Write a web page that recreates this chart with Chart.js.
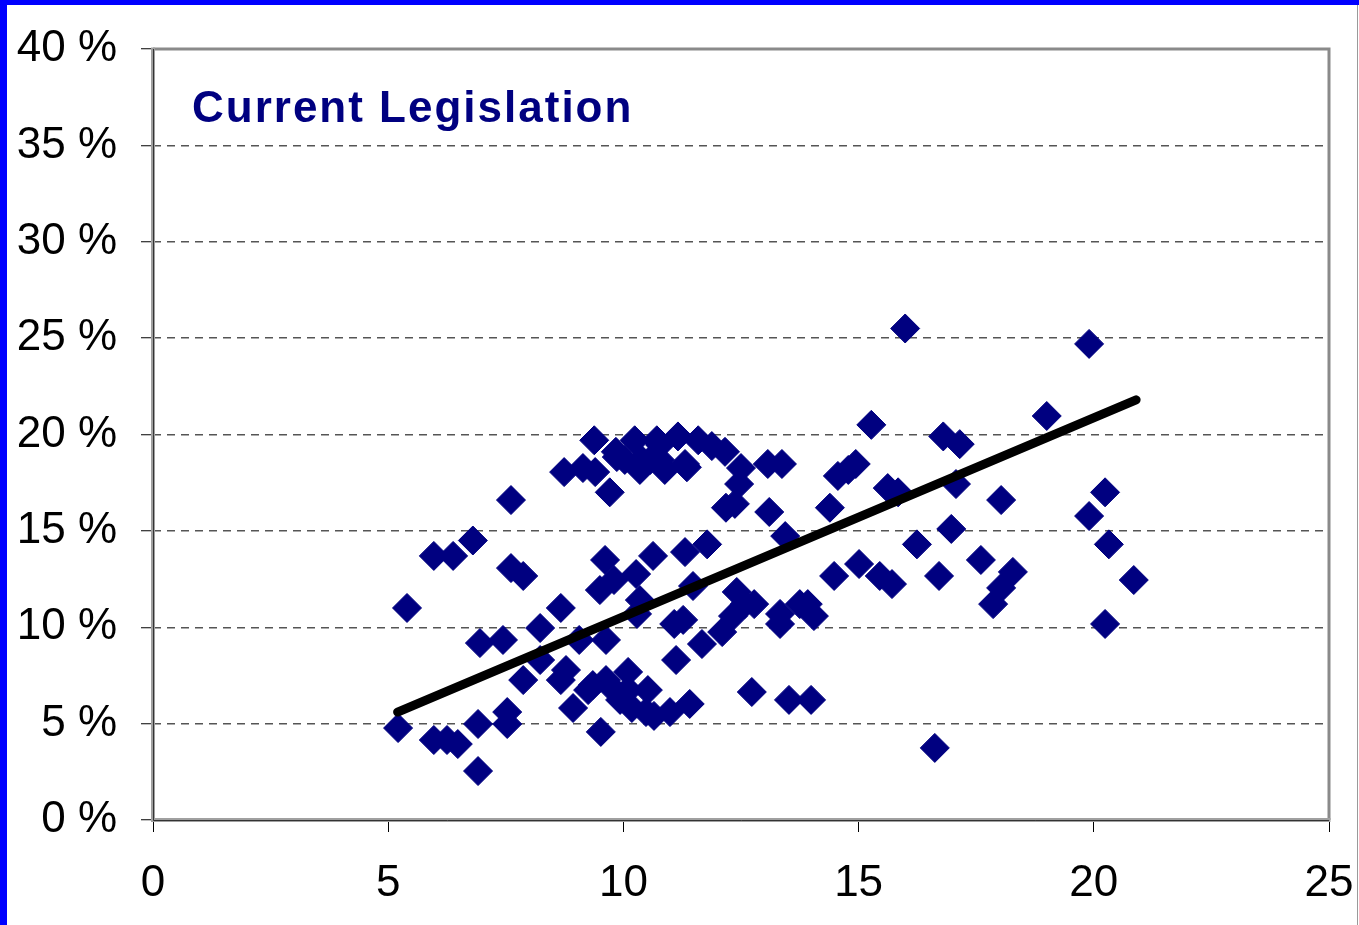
<!DOCTYPE html>
<html>
<head>
<meta charset="utf-8">
<script src="https://cdn.jsdelivr.net/npm/chart.js@4.4.0/dist/chart.umd.min.js"></script>
<style>
  html, body { margin: 0; padding: 0; background: #fff; }
  #wrap { position: relative; width: 1359px; height: 925px; }
  #title {
    position: absolute; left: 192px; top: 85px;
    font: bold 44px "Liberation Sans", Arial, sans-serif;
    line-height: 44px; letter-spacing: 2px; color: #000080;
    white-space: nowrap;
  }
</style>
</head>
<body>
<div id="wrap">
  <canvas id="chart" width="1359" height="925"></canvas>
  <div id="title">Current Legislation</div>
</div>
<script>
// 점 데이터 (x, y%)
const pointX = [
  5.21, 5.40, 5.97, 5.97, 6.25, 6.38, 6.48, 6.80, 6.91, 6.91,
  6.95, 7.44, 7.53, 7.53, 7.61, 7.61, 7.87, 7.87, 8.23, 8.23,
  8.67, 8.67, 8.78, 8.74, 8.93, 9.06, 9.25, 9.38, 9.14, 9.40,
  9.52, 9.61, 9.63, 9.50, 9.71, 9.84, 9.63, 9.80, 9.80, 9.93,
  10.03, 10.10, 10.24, 10.18, 10.27, 10.35, 10.29, 10.39, 10.48, 10.52,
  10.63, 10.65, 10.78, 10.78, 10.88, 10.99, 11.08, 11.12, 11.16, 11.27,
  11.31, 11.31, 11.41, 11.48, 11.59, 11.67, 11.78, 11.88, 12.10, 12.16,
  12.18, 12.33, 12.37, 12.46, 12.50, 12.41, 12.58, 12.73, 12.78, 13.07,
  13.10, 13.37, 13.33, 13.33, 13.44, 13.52, 13.75, 13.92, 13.99, 14.05,
  14.39, 14.48, 14.56, 14.78, 14.94, 15.01, 15.27, 15.45, 15.62, 15.71,
  15.84, 15.99, 16.24, 16.62, 16.71, 16.80, 16.97, 17.07, 17.15, 17.60,
  17.86, 18.03, 18.03, 18.28, 19.00, 19.90, 19.90, 20.24, 20.24, 20.32,
  20.85, 9.86, 10.57, 10.35, 11.35, 10.71, 10.10, 9.35
];
const pointY = [
  4.77, 11.0, 4.15, 13.7, 4.15, 13.7, 3.94, 14.5, 4.98, 2.54,
  9.18, 9.34, 5.60, 4.98, 16.6, 13.07, 12.66, 7.26, 9.96, 8.30,
  11.0, 7.26, 7.78, 18.05, 5.81, 9.34, 6.74, 19.7, 18.26, 18.05,
  4.57, 13.49, 9.34, 11.93, 17.0, 19.1, 7.26, 12.45, 6.74, 6.23,
  18.68, 6.74, 19.7, 5.81, 12.76, 11.41, 10.69, 18.68, 5.60, 6.74,
  13.7, 5.40, 19.46, 18.68, 18.16, 5.60, 10.17, 8.30, 19.9, 10.38,
  18.47, 13.9, 6.02, 12.14, 19.7, 9.13, 14.3, 19.4, 9.75, 19.1,
  16.2, 10.58, 16.4, 17.43, 18.26, 11.83, 11.2, 6.64, 11.2, 18.47,
  15.98, 18.47, 10.17, 10.69, 14.73, 6.23, 11.2, 11.2, 6.23, 10.58,
  16.2, 12.66, 17.85, 18.16, 18.47, 13.28, 20.5, 12.66, 17.22, 12.24,
  17.0, 25.5, 14.3, 3.74, 12.66, 19.9, 15.1, 17.43, 19.5, 13.49,
  11.2, 16.6, 12.04, 12.87, 20.96, 24.7, 15.77, 17.0, 10.17, 14.3,
  12.45, 18.83, 18.68, 18.16, 18.3, 19.7, 7.68, 7.0
];
// 추세선 양 끝점
const trendX = [5.2, 20.9];
const trendY = [5.6, 21.8];

const xTicks = [0, 5, 10, 15, 20, 25];
const yTicks = [0, 5, 10, 15, 20, 25, 30, 35, 40];

const tickFont = { family: '"Liberation Sans", Arial, sans-serif', size: 44 };

// 테두리 + 플롯 프레임
const framePlugin = {
  id: 'frame',
  beforeDraw(chart) {
    const ctx = chart.ctx;
    ctx.save();
    ctx.fillStyle = '#ffffff';
    ctx.fillRect(0, 0, chart.width, chart.height);
    ctx.fillStyle = '#0000ff';
    ctx.fillRect(0, 0, 7, chart.height);
    ctx.fillRect(0, 0, chart.width, 5);
    ctx.fillStyle = '#9a9a9a';
    ctx.fillRect(chart.width - 2, 5, 1, chart.height);
    ctx.restore();
  },
  afterDraw(chart) {
    const a = chart.chartArea;
    const ctx = chart.ctx;
    ctx.save();
    ctx.setLineDash([]);
    // 위/오른쪽 프레임
    ctx.strokeStyle = '#8a8a8a';
    ctx.lineWidth = 3;
    ctx.beginPath();
    ctx.moveTo(a.left, a.top);
    ctx.lineTo(a.right, a.top);
    ctx.lineTo(a.right, a.bottom);
    ctx.stroke();
    // 왼쪽/아래 축선
    ctx.strokeStyle = '#a0a0a0';
    ctx.lineWidth = 4;
    ctx.beginPath();
    ctx.moveTo(a.left, a.top - 1.5);
    ctx.lineTo(a.left, a.bottom);
    ctx.lineTo(a.right + 1.5, a.bottom);
    ctx.stroke();
    ctx.strokeStyle = '#333';
    ctx.lineWidth = 1;
    ctx.beginPath();
    ctx.moveTo(a.left + 0.5, a.top);
    ctx.lineTo(a.left + 0.5, a.bottom + 0.5);
    ctx.lineTo(a.right, a.bottom + 0.5);
    ctx.stroke();
    ctx.restore();
  }
};

const ctx = document.getElementById('chart').getContext('2d');
new Chart(ctx, {
  type: 'scatter',
  data: {
    datasets: [
      {
        label: 'trend',
        data: trendX.map((x, i) => ({ x: x, y: trendY[i] })),
        showLine: true,
        borderColor: '#000000',
        borderWidth: 9,
        borderCapStyle: 'round',
        pointRadius: 0,
        order: 0
      },
      {
        label: 'points',
        data: pointX.map((x, i) => ({ x: x, y: pointY[i] })),
        pointStyle: 'rectRot',
        pointRadius: 14.5,
        pointBackgroundColor: '#000080',
        pointBorderColor: '#000080',
        pointBorderWidth: 1,
        order: 1
      }
    ]
  },
  options: {
    responsive: false,
    animation: false,
    devicePixelRatio: 1,
    layout: { padding: { top: 49, right: 30, left: 0, bottom: 0 } },
    plugins: {
      legend: { display: false },
      tooltip: { enabled: false }
    },
    scales: {
      x: {
        type: 'linear',
        min: 0, max: 25,
        afterBuildTicks: (s) => { s.ticks = xTicks.map(v => ({ value: v })); },
        afterFit: (s) => { s.height = 105; s.paddingRight = 0; s.paddingLeft = 0; },
        ticks: { font: tickFont, color: '#000', padding: 25 },
        grid: {
          drawOnChartArea: false,
          drawTicks: true,
          tickLength: 12,
          tickColor: '#000',
          tickWidth: 1
        },
        border: { display: false }
      },
      y: {
        type: 'linear',
        min: 0, max: 40,
        afterBuildTicks: (s) => { s.ticks = yTicks.map(v => ({ value: v })); },
        afterFit: (s) => { s.width = 153; s.paddingTop = 0; s.paddingBottom = 0; },
        ticks: { font: tickFont, color: '#000', padding: 24, callback: (v) => v + ' %' },
        grid: {
          color: (c) => (c.tick && (c.tick.value === 0 || c.tick.value === 40)) ? 'rgba(0,0,0,0)' : '#555',
          lineWidth: 1.5,
          drawTicks: true,
          tickLength: 12,
          tickColor: '#000',
          tickWidth: 1,
          tickBorderDash: []
        },
        border: { display: false, dash: [8, 6] }
      }
    }
  },
  plugins: [framePlugin]
});
</script>
</body>
</html>
